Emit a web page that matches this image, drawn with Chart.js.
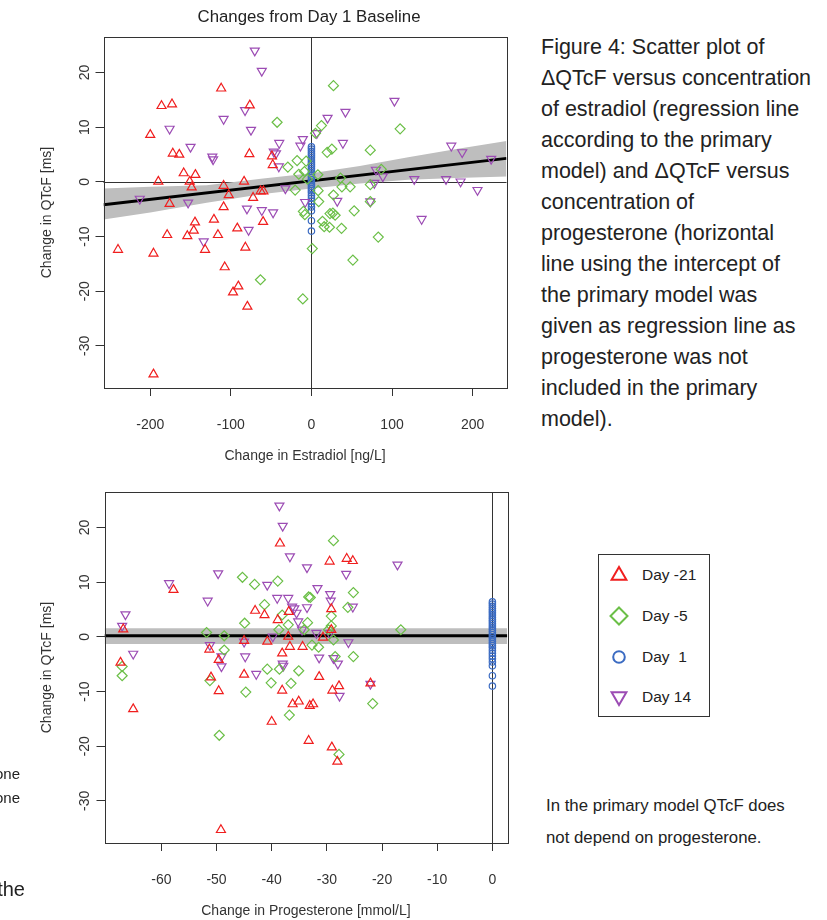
<!DOCTYPE html>
<html><head><meta charset="utf-8">
<script src="https://cdn.jsdelivr.net/npm/chart.js@4.4.1/dist/chart.umd.min.js"></script>
<style>
html,body{margin:0;padding:0;background:#fff;width:827px;height:920px;overflow:hidden;position:relative;font-family:"Liberation Sans",Arial,sans-serif;}
canvas{position:absolute;left:0;}
#c1{top:0;}
#c2{top:470px;}
.t{position:absolute;white-space:nowrap;color:#222;}
#legend{position:absolute;left:598px;top:554px;width:112px;height:163px;border:1px solid #333;box-sizing:border-box;}
#legend .row{position:absolute;left:0;height:30px;width:110px;}
#legend svg{position:absolute;left:9px;top:4px;}
#legend span{position:absolute;left:43px;top:0;line-height:30px;font-size:15.5px;color:#222;white-space:pre;}
</style></head><body>
<canvas id="c1" width="520" height="470"></canvas>
<canvas id="c2" width="520" height="450"></canvas>

<div class="t" style="left:309px;top:6px;line-height:22px;font-size:16.8px;transform:translateX(-50%);color:#222;">Changes from Day 1 Baseline</div>

<div class="t" style="left:541px;top:31.5px;line-height:31px;font-size:21.5px;">Figure 4: Scatter plot of<br>ΔQTcF versus concentration<br>of estradiol (regression line<br>according to the primary<br>model) and ΔQTcF versus<br>concentration of<br>progesterone (horizontal<br>line using the intercept of<br>the primary model was<br>given as regression line as<br>progesterone was not<br>included in the primary<br>model).</div>

<div class="t" style="left:546px;top:790px;line-height:32px;font-size:16.8px;">In the primary model QTcF does<br>not depend on progesterone.</div>

<div class="t" style="left:-200px;width:220px;text-align:right;top:762px;line-height:24px;font-size:15px;">progesterone<br>progesterone</div>
<div class="t" style="left:-200px;width:225px;text-align:right;top:876px;line-height:26px;font-size:20px;">of the</div>

<div id="legend">
  <div class="row" style="top:5px"><svg width="22" height="22" viewBox="0 0 22 22"><polygon points="11,3 18.4,15.8 3.6,15.8" fill="none" stroke="#F01E1E" stroke-width="2"/></svg><span>Day -21</span></div>
  <div class="row" style="top:46px"><svg width="22" height="22" viewBox="0 0 22 22"><polygon points="11,2.5 19.5,11 11,19.5 2.5,11" fill="none" stroke="#6BBF47" stroke-width="2"/></svg><span>Day -5</span></div>
  <div class="row" style="top:87px"><svg width="22" height="22" viewBox="0 0 22 22"><circle cx="11" cy="11" r="5.8" fill="none" stroke="#3B6BC2" stroke-width="2"/></svg><span>Day  1</span></div>
  <div class="row" style="top:127px"><svg width="22" height="22" viewBox="0 0 22 22"><polygon points="3.6,6.2 18.4,6.2 11,19" fill="none" stroke="#9C4CB4" stroke-width="2"/></svg><span>Day 14</span></div>
</div>

<script>
// ---------- data ----------
const estrTicks = [-200, -100, 0, 100, 200];
const progTicks = [-60, -50, -40, -30, -20, -10, 0];
const qtTicks = [-30, -20, -10, 0, 10, 20];

// Top: change in estradiol [ng/L] vs change in QTcF [ms]
const estrDay21 = [[-112,17.1],[-186,13.9],[-173,14.2],[-76.5,14.0],[-200,8.6],[-172,5.2],[-164,5.0],[-77,5.1],[-49,4.7],[-48,3.1],[-158.5,1.6],[-144,1.3],[-190,0.05],[-151,0.05],[-148.6,-1.0],[-109,-0.7],[-83.6,0.05],[-102.6,-2.4],[-72.4,-2.9],[-63,-1.7],[-59.6,-1.7],[-176,-4.0],[-109,-4.6],[-144.5,-7.4],[-121,-6.9],[-60,-7.3],[-146,-8.9],[-179,-9.7],[-154,-9.9],[-116,-9.7],[-92,-8.5],[-240,-12.4],[-196,-13.1],[-132,-12.4],[-82,-12.0],[-107.6,-15.6],[-90.7,-19.1],[-97.3,-20.2],[-79.5,-22.8],[-196,-35.2]];
const estrDay5 = [[-42.6,10.9],[-29.3,2.7],[-17.8,3.9],[-15.7,1.4],[-20.2,-1.5],[-10,-5.4],[27.3,17.6],[12.4,10.3],[5,8.9],[110,9.7],[19.5,5.4],[25.3,6.0],[73,5.8],[-6.6,3.8],[-8.7,1.9],[8,1.3],[36,0.7],[37.8,-0.9],[48,-0.9],[73,-0.5],[86.6,2.3],[8.3,-1.6],[9,-3.6],[27.3,-2.4],[73,-3.6],[53,-5.3],[26.6,-5.7],[23,-5.8],[29.4,-6.1],[13.7,-7.2],[15.8,-8.2],[22.4,-8.3],[37.3,-8.5],[82.9,-10.1],[1,-12.2],[51.4,-14.3],[-10.7,-21.4],[-63.3,-17.9],[-8.2,-6.0],[-5,0.5]];
const estrDay14 = [[-70.3,24.0],[-61.6,20.3],[-109,11.5],[-82.4,13.1],[-176,9.7],[-75,9.5],[-150,6.4],[-123,4.6],[-122,4.1],[-40,7.1],[-10.7,7.8],[-13.7,6.6],[-46.7,5.5],[-44,5.2],[-40.5,2.8],[-32.3,-1.2],[-213,-3.1],[-153,-3.8],[-80,-4.9],[-61.6,-5.2],[-47.6,-5.6],[-7.8,-3.7],[-78,-8.8],[-133.7,-10.9],[103,14.8],[42.2,12.8],[20,11.7],[6.7,8.9],[39,7.1],[173.5,6.6],[187,5.4],[223,4.2],[80,2.2],[88.6,1.0],[127.6,0.5],[167,0.5],[185,0.05],[206,-1.5],[78,-0.2],[32,-3.5],[73,-3.6],[136.7,-6.8]];
const day1QT = [6.4,6.0,5.6,5.2,4.8,4.4,4.0,3.6,3.2,2.8,2.4,2.0,1.6,1.2,0.8,0.4,0.0,-0.4,-0.8,-1.2,-1.6,-2.0,-2.5,-3.0,-3.5,-4.0,-4.6,-5.3,-7.1,-9.0];
const day1Change = 0;

// Regression line and confidence band (top)
const estrRegX = [-258, 242];
const estrRegY = [-4.2, 4.3];
const estrBandX = [-258, -200, -130, -60, 0, 60, 120, 180, 242];
const estrBandLo = [-6.9, -5.6, -3.8, -2.2, -1.2, -0.3, 0.4, 0.7, 1.0];
const estrBandHi = [-1.2, -0.9, -0.6, 0.6, 1.6, 2.9, 4.5, 6.0, 7.5];

// Bottom: change in progesterone [mmol/L] vs change in QTcF [ms]
const progDay21 = [[-38.5,17.1],[-57.8,8.6],[-43,4.8],[-41.3,4.0],[-38.9,3.1],[-36.9,4.6],[-66.9,1.4],[-37,0.05],[-45,-0.7],[-40.8,-0.85],[-34.4,-1.8],[-36.7,-1.8],[-51.3,-2.3],[-38.1,-3.0],[-49.6,-4.2],[-67.4,-4.7],[-29.5,13.8],[-26.4,14.3],[-25.3,13.9],[-29.2,5.1],[-29.2,1.3],[-30.7,-0.1],[-51,-7.4],[-49.6,-9.9],[-45,-6.9],[-65.1,-13.2],[-38.1,-9.8],[-36.2,-12.3],[-35.1,-11.8],[-33.1,-12.6],[-40,-15.5],[-33.3,-19.0],[-49.2,-35.3],[-31.4,-7.3],[-27.8,-9.0],[-29,-9.8],[-22.1,-8.5],[-32.5,-12.3],[-29.1,-20.2],[-28.1,-22.8]];
const progDay5 = [[-45.3,10.9],[-43.1,9.6],[-38.9,10.2],[-41.3,5.9],[-38.1,4.0],[-33.3,7.3],[-44.9,2.5],[-37,2.2],[-38.7,1.3],[-33.5,2.6],[-51.8,0.8],[-48.6,0.2],[-48.6,-2.4],[-28.8,17.6],[-25.2,8.1],[-33,7.2],[-26.2,5.4],[-29.2,3.8],[-29.2,2.0],[-34.1,1.3],[-16.6,1.3],[-29.7,1.3],[-28.8,-0.55],[-32.7,-1.5],[-31.5,-1.9],[-28.5,-3.6],[-25.2,-3.6],[-67.1,-5.4],[-67.1,-7.1],[-51.2,-8.0],[-44.7,-10.1],[-40.8,-5.9],[-38.6,-5.9],[-35.1,-6.2],[-40.1,-8.4],[-36.5,-8.5],[-36.8,-14.3],[-49.5,-18.0],[-21.7,-12.2],[-27.8,-21.5]];
const progDay14 = [[-38.6,24.0],[-38.0,20.3],[-36.7,14.7],[-33.6,12.7],[-49.7,11.6],[-58.6,9.8],[-40.8,9.5],[-51.6,6.6],[-39,7.1],[-37,7.1],[-36.3,5.5],[-35.9,5.2],[-35.5,4.4],[-33.6,5.4],[-66.5,4.1],[-67.1,2.0],[-35.2,2.8],[-34.5,1.3],[-39.8,0.05],[-45,-0.9],[-51.2,-1.5],[-65.1,-3.1],[-44.8,-3.6],[-49.1,-3.6],[-38,-4.9],[-49.1,-5.4],[-26.5,11.5],[-17.2,13.2],[-31.7,8.9],[-29.4,7.8],[-29.3,6.6],[-25.3,5.5],[-31.9,0.7],[-29.5,0.7],[-26.1,-1.0],[-31.4,-3.8],[-28.8,-3.9],[-28,-4.9],[-42.8,-6.8],[-37.9,-5.3],[-27.7,-10.8],[-22.1,-8.6]];
const progRegX = [-70.3, 2.7];
const progRegY = [0.2, 0.2];
const progBandLo = [-1.3, -1.3];
const progBandHi = [1.6, 1.6];

// ---------- styling ----------
const RED = '#F01E1E', GREEN = '#6BBF47', BLUE = '#3B6BC2', PURPLE = '#9C4CB4', GREY = '#BEBEBE', INK = '#333';
const FONT = '"Liberation Sans", Arial, sans-serif';

function pts(arr) { return arr.map(p => ({x: p[0], y: p[1]})); }
function zip(xs, ys) { return xs.map((x, i) => ({x, y: ys[i]})); }
function scatterSet(label, data, style, color, radius, rot) {
  return {label, data, showLine: false, pointStyle: style, pointRadius: radius, pointRotation: rot || 0,
    pointBorderColor: color, borderColor: color, pointBackgroundColor: 'rgba(0,0,0,0)',
    backgroundColor: 'rgba(0,0,0,0)', pointBorderWidth: 1.2, order: 0};
}
function lineSet(data, color, width, order, fill, bg) {
  return {data, showLine: true, pointRadius: 0, borderColor: color, borderWidth: width, tension: 0,
    fill: fill, backgroundColor: bg || 'rgba(0,0,0,0)', order};
}

const framePlugin = {
  id: 'frame',
  beforeDatasetsDraw(chart, args, opts) {
    const {ctx, chartArea: a, scales: {x, y}} = chart;
    ctx.save();
    ctx.strokeStyle = INK; ctx.lineWidth = 1;
    (opts.vLines || []).forEach(v => {
      const px = Math.round(x.getPixelForValue(v)) + 0.5;
      ctx.beginPath(); ctx.moveTo(px, a.top); ctx.lineTo(px, a.bottom); ctx.stroke();
    });
    (opts.hLines || []).forEach(v => {
      const py = Math.round(y.getPixelForValue(v)) + 0.5;
      ctx.beginPath(); ctx.moveTo(a.left, py); ctx.lineTo(a.right, py); ctx.stroke();
    });
    ctx.restore();
  },
  afterDraw(chart, args, opts) {
    const {ctx, chartArea: a, scales: {y}} = chart;
    ctx.save();
    ctx.strokeStyle = INK; ctx.lineWidth = 1;
    ctx.strokeRect(Math.round(a.left) + 0.5, Math.round(a.top) + 0.5, Math.round(a.right - a.left), Math.round(a.bottom - a.top));
    ctx.fillStyle = INK;
    ctx.font = '14px ' + FONT;
    ctx.textAlign = 'center'; ctx.textBaseline = 'middle';
    (opts.yTicks || []).forEach(v => {
      const py = y.getPixelForValue(v);
      ctx.save(); ctx.translate(opts.labelX, py); ctx.rotate(-Math.PI / 2);
      ctx.fillText(String(v), 0, 1); ctx.restore();
    });
    ctx.restore();
  }
};

function makeChart(id, cfg) {
  return new Chart(document.getElementById(id), {
    type: 'line',
    data: {datasets: cfg.datasets},
    plugins: [framePlugin],
    options: {
      responsive: false, animation: false, devicePixelRatio: 1, events: [],
      layout: {padding: {top: cfg.padTop, right: cfg.padRight, left: 0, bottom: 0}},
      plugins: {legend: {display: false}, tooltip: {enabled: false},
        frame: {vLines: cfg.vLines, hLines: cfg.hLines, yTicks: qtTicks, labelX: 84}},
      scales: {
        x: {type: 'linear', min: cfg.xMin, max: cfg.xMax, offset: false,
          afterBuildTicks: s => { s.ticks = cfg.xTicks.map(v => ({value: v})); },
          afterFit: s => { s.height = cfg.xHeight; },
          border: {display: false},
          grid: {drawOnChartArea: false, drawTicks: true, tickLength: 8, color: INK, lineWidth: 1},
          ticks: {color: INK, font: {family: FONT, size: 14}, padding: 21, maxRotation: 0, minRotation: 0,
            callback: v => String(v)},
          title: {display: true, text: cfg.xTitle, color: INK, font: {family: FONT, size: 14},
            padding: {top: 0, bottom: cfg.titlePadBottom}}
        },
        y: {type: 'linear', min: -37.7, max: 26.5,
          afterBuildTicks: s => { s.ticks = qtTicks.map(v => ({value: v})); },
          afterFit: s => { s.width = cfg.yWidth; },
          border: {display: false},
          grid: {drawOnChartArea: false, drawTicks: true, tickLength: 8, color: INK, lineWidth: 1},
          ticks: {color: 'rgba(0,0,0,0)', font: {family: FONT, size: 14}},
          title: {display: true, text: 'Change in QTcF [ms]', color: INK, font: {family: FONT, size: 14},
            padding: {top: 38.6, bottom: 0}}
        }
      }
    }
  });
}

const day1Pts = day1QT.map(v => ({x: day1Change, y: v}));

makeChart('c1', {
  padTop: 37, padRight: 13.5, yWidth: 103.5, xHeight: 82, titlePadBottom: 5.6,
  xMin: -258, xMax: 242, xTicks: estrTicks, xTitle: 'Change in Estradiol [ng/L]',
  vLines: [0], hLines: [0],
  datasets: [
    lineSet(zip(estrBandX, estrBandLo), 'rgba(0,0,0,0)', 0, 3, false),
    lineSet(zip(estrBandX, estrBandHi), 'rgba(0,0,0,0)', 0, 3, 0, GREY),
    lineSet(zip(estrRegX, estrRegY), '#000', 3, 2, false),
    scatterSet('Day -21', pts(estrDay21), 'triangle', RED, 5.2, 0),
    scatterSet('Day -5', pts(estrDay5), 'rectRot', GREEN, 5, 0),
    scatterSet('Day 14', pts(estrDay14), 'triangle', PURPLE, 5.2, 180),
    scatterSet('Day 1', day1Pts, 'circle', BLUE, 3.2, 0)
  ]
});

makeChart('c2', {
  padTop: 22, padRight: 12.7, yWidth: 104.5, xHeight: 77, titlePadBottom: 0.6,
  xMin: -70.3, xMax: 2.7, xTicks: progTicks, xTitle: 'Change in Progesterone [mmol/L]',
  vLines: [0], hLines: [],
  datasets: [
    lineSet(zip(progRegX, progBandLo), 'rgba(0,0,0,0)', 0, 3, false),
    lineSet(zip(progRegX, progBandHi), 'rgba(0,0,0,0)', 0, 3, 0, GREY),
    lineSet(zip(progRegX, progRegY), '#000', 3, 2, false),
    scatterSet('Day -21', pts(progDay21), 'triangle', RED, 5.2, 0),
    scatterSet('Day -5', pts(progDay5), 'rectRot', GREEN, 5, 0),
    scatterSet('Day 14', pts(progDay14), 'triangle', PURPLE, 5.2, 180),
    scatterSet('Day 1', day1Pts, 'circle', BLUE, 3.2, 0)
  ]
});
</script>
</body></html>
